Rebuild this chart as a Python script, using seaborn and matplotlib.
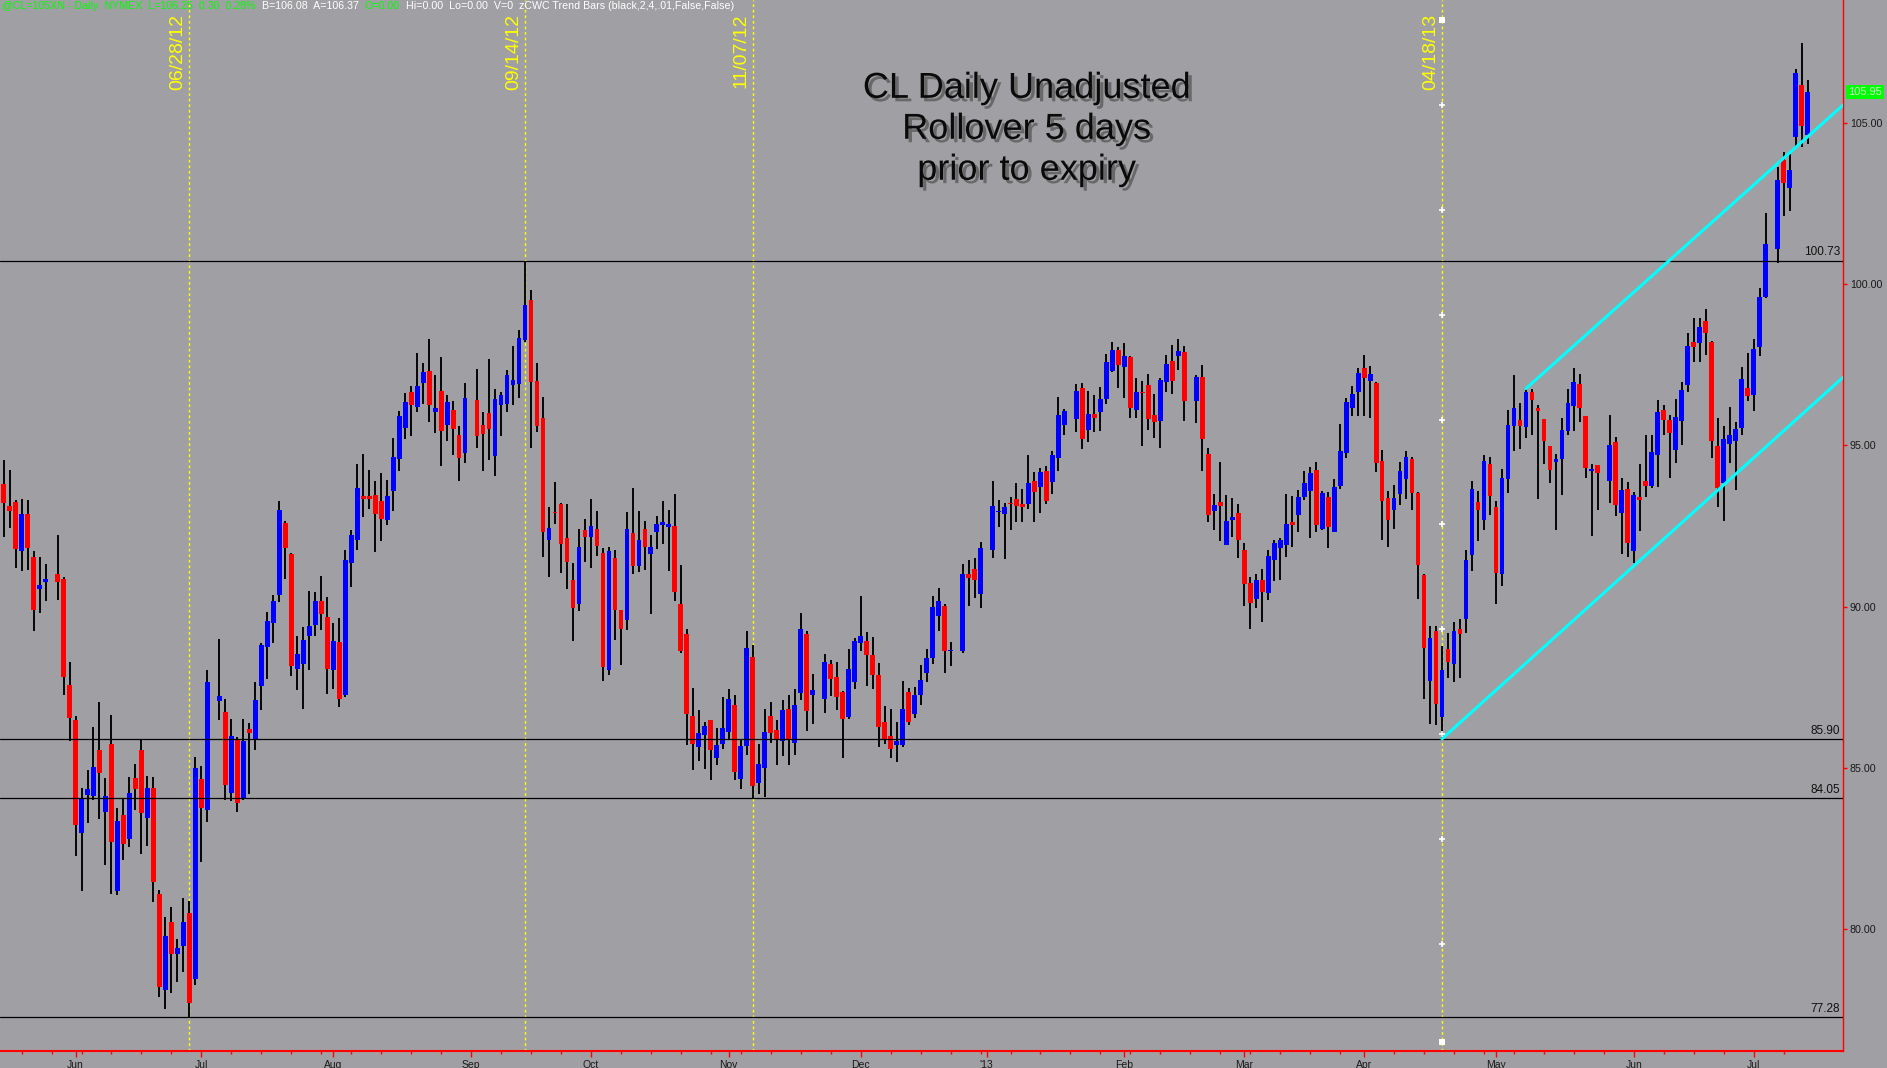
import numpy as np
import pandas as pd
import matplotlib
matplotlib.use("Agg")
import matplotlib.pyplot as plt
import matplotlib.patheffects as pe
import matplotlib.transforms as mtransforms
import seaborn as sns

# ---------------- data ----------------
first_day, last_day = "2012-05-16", "2013-07-12"
no_slot_days = ["2013-03-29"]                      # no column on the chart
no_bar_days = ["2012-05-28", "2012-07-04", "2012-09-03", "2012-11-22",
               "2012-12-25", "2013-01-01", "2013-01-21", "2013-02-18",
               "2013-05-27", "2013-07-04"]          # empty columns

opens = [
    93.80, 93.13, 93.25, 91.72, 92.88, 91.54, 90.54, 90.77, 91.00, 90.86, 87.58,
    86.47, 82.99, 84.15, 84.13, 85.54, 83.63, 85.75, 81.18, 83.53, 82.79, 84.70, 85.54, 83.44, 84.38, 81.10, 78.11, 80.22, 79.23, 79.47, 80.51, 78.45,
    84.66, 83.68, 87.06, 86.74, 84.22, 85.90, 84.03, 86.21, 85.86, 87.53, 88.74, 89.48, 90.35, 92.60, 91.63, 88.06, 88.21, 89.10, 89.42, 90.17, 89.69,
    88.03, 88.89, 87.25, 91.34, 92.05, 93.43, 93.43, 93.47, 93.28, 92.69, 93.57, 94.57, 95.55, 96.64, 96.19, 96.94, 97.31, 96.04, 96.69, 95.64, 96.10, 95.32, 94.75,
    96.41, 95.63, 96.01, 94.67, 96.24, 96.28, 96.86, 96.90, 98.27, 99.50, 96.99, 95.85, 92.06, 92.94, 93.19, 92.14, 90.83, 90.07, 92.38,
    92.15, 92.41, 91.67, 88.03, 91.52, 89.88, 89.60, 92.29, 91.27, 92.41, 91.62, 92.32, 92.52, 92.47, 92.50, 90.07, 89.16, 86.62, 85.64, 86.01, 86.47, 85.30, 85.74,
    86.11, 86.94, 84.65, 85.68, 88.45, 84.53, 84.99, 86.62, 86.16, 85.82, 86.81, 85.78, 87.32, 89.16, 87.27, 87.12, 88.23, 87.83, 87.36, 86.57, 87.66,
    88.86, 88.94, 88.51, 87.89, 86.41, 85.99, 85.71, 85.70, 87.36, 86.67, 87.26, 87.93, 88.40, 89.70, 90.03, 88.62, 88.61, 91.02, 91.18, 90.40,
    91.77, 92.93, 92.86, 93.21, 93.35, 93.17, 93.19, 93.90, 93.72, 94.21, 93.87, 94.60, 95.63, 95.82, 96.78, 95.49, 95.98, 96.03, 96.45, 97.31, 97.96,
    97.42, 97.74, 96.11, 96.65, 96.87, 95.94, 95.77, 96.95, 97.61, 97.78, 97.90, 96.39, 97.12, 94.74, 92.95, 93.25, 91.92, 92.70, 92.90,
    91.76, 90.74, 90.23, 90.83, 90.41, 91.44, 91.83, 91.92, 92.63, 92.83, 93.39, 93.60, 94.25, 92.41, 93.41, 92.32, 93.73, 94.75, 96.17, 96.66,
    97.39, 97.01, 96.94, 94.52, 93.38, 93.01, 93.48, 93.95, 94.59, 93.51, 90.97, 87.68, 89.23, 86.59, 88.68, 88.21, 89.30, 89.61, 91.59, 93.25, 92.70, 94.43,
    93.10, 91.00, 93.97, 95.59, 95.79, 95.56, 96.64, 96.16, 95.81, 94.98, 94.47, 94.58, 95.45, 96.21, 96.90, 95.91, 94.22, 94.39, 93.88, 95.09, 92.89, 93.66,
    91.73, 93.40, 93.88, 93.73, 94.71, 96.10, 95.80, 94.86, 95.77, 96.87, 98.19, 98.17, 98.87, 98.22, 94.99, 93.84, 95.04, 95.13, 95.54, 96.79,
    96.57, 98.06, 99.61, 101.08, 103.86, 102.99, 104.57, 106.17, 104.62,
]
highs = [
    94.54, 94.24, 93.30, 93.34, 93.31, 91.73, 91.53, 91.33, 92.23, 90.91, 88.29,
    86.61, 84.38, 84.94, 86.28, 87.05, 84.69, 86.63, 83.74, 84.07, 84.73, 85.13, 85.89, 84.76, 84.73, 81.21, 80.39, 80.69, 79.70, 80.96, 80.86, 85.34,
    85.06, 88.03, 88.99, 87.15, 86.51, 85.96, 86.52, 86.40, 87.65, 88.87, 89.82, 90.37, 93.28, 92.66, 91.67, 89.09, 89.37, 90.49, 90.46, 90.96, 90.31,
    89.50, 89.65, 91.76, 92.36, 94.43, 94.74, 94.24, 93.90, 94.14, 93.93, 95.23, 96.07, 96.61, 96.85, 97.87, 97.56, 98.30, 97.18, 97.74, 96.56, 96.38, 95.61, 96.94,
    97.36, 96.03, 97.69, 96.76, 96.65, 97.34, 98.08, 98.58, 100.73, 99.81, 97.56, 96.50, 93.10, 93.87, 93.20, 93.19, 91.35, 92.41, 92.72,
    93.34, 92.98, 91.83, 91.85, 91.75, 89.90, 92.94, 93.69, 92.98, 92.65, 92.23, 92.81, 93.29, 93.00, 93.50, 91.30, 89.32, 87.49, 86.78, 86.41, 86.47, 86.25, 87.21,
    87.44, 87.27, 85.90, 89.25, 88.82, 85.74, 86.81, 87.05, 86.47, 87.10, 87.27, 87.43, 89.81, 89.23, 87.91, 88.54, 88.34, 88.27, 87.37, 88.70, 89.02,
    90.34, 89.21, 89.07, 88.26, 86.93, 86.81, 86.41, 87.70, 87.49, 87.50, 88.20, 88.67, 90.34, 90.57, 90.09, 88.89, 91.33, 91.45, 91.52, 92.01,
    93.90, 93.31, 93.21, 93.39, 93.82, 93.66, 94.70, 94.16, 94.30, 94.37, 94.83, 96.50, 96.12, 96.90, 96.94, 96.70, 96.56, 96.81, 97.83, 98.22, 98.05,
    98.18, 97.78, 97.09, 97.01, 97.21, 96.59, 97.09, 97.80, 98.11, 98.30, 98.08, 97.18, 97.49, 94.92, 93.50, 94.49, 93.47, 93.38, 93.19,
    91.97, 90.92, 91.00, 91.17, 91.75, 92.05, 92.13, 93.50, 93.42, 93.63, 94.21, 94.34, 94.49, 93.58, 93.56, 93.96, 95.67, 96.47, 96.85, 97.39,
    97.80, 97.46, 96.96, 94.86, 93.59, 93.78, 94.49, 94.83, 94.65, 93.55, 91.00, 89.40, 89.40, 88.79, 89.17, 89.52, 89.63, 91.74, 93.90, 93.59, 94.70, 94.63,
    93.27, 94.26, 96.09, 97.17, 96.30, 96.76, 96.76, 96.24, 95.81, 94.98, 94.72, 95.86, 96.76, 97.39, 97.22, 95.91, 94.42, 94.39, 95.94, 95.26, 93.99, 93.87,
    93.55, 94.42, 95.32, 95.32, 96.41, 96.26, 95.94, 96.43, 96.97, 98.49, 98.94, 98.94, 99.23, 98.25, 95.86, 95.61, 96.18, 95.73, 97.44, 97.87,
    98.31, 99.88, 102.22, 103.64, 104.11, 104.02, 106.67, 107.48, 106.33,
]
lows = [
    92.15, 92.43, 91.21, 91.10, 91.12, 89.23, 89.80, 90.17, 90.22, 87.25, 85.83,
    82.26, 81.18, 83.29, 84.01, 83.41, 81.99, 81.09, 81.06, 82.13, 82.54, 83.68, 82.32, 82.58, 80.84, 77.89, 77.53, 78.03, 78.35, 78.67, 77.28, 78.28,
    82.09, 83.31, 86.48, 84.01, 83.98, 83.63, 84.00, 84.20, 85.55, 86.78, 87.75, 88.88, 90.13, 90.86, 87.86, 87.40, 86.81, 88.02, 89.10, 89.29, 87.28,
    87.45, 86.88, 87.19, 90.60, 91.74, 92.79, 93.03, 91.68, 92.02, 92.52, 92.95, 94.19, 95.21, 95.28, 96.02, 96.27, 95.71, 95.37, 94.37, 95.12, 94.70, 93.91, 94.46,
    94.93, 94.21, 94.56, 94.04, 95.30, 96.04, 96.26, 96.47, 98.20, 94.93, 95.40, 91.53, 90.93, 92.55, 91.03, 90.55, 88.94, 89.86, 91.37,
    91.21, 91.58, 87.68, 87.88, 88.98, 88.19, 89.26, 91.00, 91.06, 91.12, 89.77, 91.78, 91.95, 91.10, 90.17, 88.55, 85.70, 84.93, 85.21, 84.97, 84.62, 85.08, 85.59,
    85.91, 84.62, 84.33, 85.39, 84.05, 84.20, 84.09, 85.78, 85.09, 85.37, 85.08, 85.39, 87.09, 86.13, 86.35, 86.70, 87.24, 86.78, 85.32, 86.50, 87.44,
    88.63, 87.53, 87.44, 85.64, 85.74, 85.30, 85.19, 85.66, 86.32, 86.56, 86.96, 87.66, 88.23, 89.24, 87.93, 88.17, 88.55, 90.01, 90.28, 89.97,
    91.52, 92.46, 91.49, 92.38, 92.63, 92.63, 93.03, 92.61, 92.91, 93.19, 93.50, 94.21, 95.32, 95.41, 94.90, 95.10, 95.41, 95.44, 96.27, 97.27, 96.79,
    96.48, 95.85, 95.85, 94.99, 95.49, 95.24, 94.93, 96.64, 96.60, 97.33, 95.74, 95.70, 94.19, 92.61, 92.39, 92.02, 91.90, 92.15, 91.52,
    90.01, 89.30, 89.97, 89.51, 90.19, 90.79, 90.84, 91.54, 91.86, 92.32, 93.32, 92.12, 92.32, 92.38, 91.81, 92.30, 93.66, 94.61, 95.91, 95.91,
    95.91, 95.85, 94.16, 92.07, 91.86, 92.41, 93.15, 93.34, 93.01, 90.24, 87.14, 86.35, 86.32, 85.90, 87.80, 87.66, 87.79, 89.17, 91.10, 92.02, 92.38, 92.84,
    90.09, 90.64, 93.52, 94.82, 94.88, 95.23, 95.31, 93.33, 94.42, 93.84, 92.37, 93.47, 95.31, 95.45, 95.72, 93.99, 92.18, 93.01, 93.20, 92.81, 91.62, 91.54,
    91.34, 92.34, 93.41, 93.68, 93.71, 95.32, 93.99, 94.44, 95.02, 96.64, 97.57, 97.60, 97.79, 94.60, 93.08, 92.65, 94.44, 93.63, 95.31, 96.37,
    96.05, 97.77, 99.56, 100.67, 102.11, 102.26, 104.27, 104.24, 104.34,
]
closes = [
    93.20, 92.95, 91.80, 92.88, 91.82, 89.89, 90.68, 90.86, 90.75, 87.81, 86.54,
    83.22, 84.02, 84.33, 85.04, 84.84, 84.12, 82.69, 83.34, 82.64, 84.23, 84.33, 83.59, 84.36, 81.47, 78.21, 79.78, 79.23, 79.41, 80.23, 77.72, 84.98,
    83.75, 87.67, 87.23, 84.48, 86.00, 83.92, 85.84, 86.09, 87.11, 88.82, 89.56, 90.18, 93.00, 91.83, 88.15, 88.52, 88.98, 89.41, 90.17, 89.78, 88.06,
    88.94, 87.13, 91.43, 92.23, 93.69, 93.34, 93.35, 92.86, 92.73, 93.44, 94.65, 95.92, 96.34, 96.26, 96.85, 97.27, 96.26, 96.16, 95.46, 96.35, 95.50, 94.61, 96.47,
    95.30, 95.36, 95.52, 96.45, 96.56, 97.18, 97.04, 98.32, 99.36, 96.95, 95.61, 92.30, 92.45, 92.89, 91.93, 91.37, 89.97, 91.86, 92.15,
    92.50, 91.89, 88.14, 91.73, 89.88, 89.32, 92.41, 91.26, 92.07, 91.86, 91.86, 92.57, 92.61, 92.55, 90.44, 88.63, 86.67, 85.74, 86.07, 86.31, 85.55, 85.70, 86.25,
    87.12, 84.86, 85.67, 88.72, 84.45, 85.12, 86.11, 86.08, 85.85, 86.78, 85.91, 86.94, 89.30, 86.75, 87.41, 88.29, 87.74, 87.19, 86.51, 88.08, 88.94,
    89.10, 88.50, 87.88, 86.26, 85.91, 85.59, 85.83, 86.81, 86.43, 87.27, 87.72, 88.42, 89.99, 90.16, 88.63, 88.64, 91.00, 90.88, 90.81, 91.83,
    93.12, 92.95, 93.10, 93.18, 93.12, 93.10, 93.83, 93.56, 94.16, 93.28, 94.70, 95.94, 96.07, 96.70, 95.21, 95.98, 95.86, 96.45, 97.59, 97.96, 97.48,
    97.78, 96.16, 96.65, 96.61, 95.82, 95.71, 97.04, 97.52, 97.01, 97.92, 96.39, 97.12, 95.21, 92.84, 93.16, 93.11, 92.67, 92.77, 92.06,
    90.69, 90.12, 90.83, 90.45, 91.58, 91.98, 92.07, 92.57, 92.52, 93.41, 93.83, 94.13, 92.52, 93.52, 92.46, 93.72, 94.83, 96.35, 96.60, 97.25,
    97.08, 97.21, 94.44, 93.26, 92.69, 93.38, 94.21, 94.65, 93.51, 91.28, 88.71, 89.04, 86.97, 88.03, 88.28, 89.23, 89.16, 91.45, 93.65, 92.99, 94.52, 93.44,
    91.03, 93.99, 95.63, 96.16, 95.61, 96.65, 96.40, 96.05, 95.15, 94.23, 94.58, 95.48, 96.32, 96.95, 96.16, 94.30, 94.28, 94.15, 95.02, 93.14, 93.62, 91.97,
    93.47, 93.30, 93.73, 94.79, 96.04, 95.78, 95.37, 95.89, 96.71, 98.09, 98.04, 98.68, 98.47, 95.15, 93.68, 95.21, 95.32, 95.51, 97.06, 96.54,
    98.00, 99.61, 101.25, 103.23, 103.13, 103.54, 106.55, 104.90, 105.95,
]

levels = [100.73, 85.90, 84.05, 77.28]
marker_dates = ["2012-06-28", "2012-09-14", "2012-11-07", "2013-04-18"]
marker_labels = ["06/28/12", "09/14/12", "11/07/12", "04/18/13"]
upper_channel = [("2013-05-08", 96.76), ("2013-07-12", 104.57)]
lower_channel = [("2013-04-18", 85.90), ("2013-07-12", 96.12)]
last_price = 105.95
month_labels = ["Jun", "Jul", "Aug", "Sep", "Oct", "Nov", "Dec", "'13",
                "Feb", "Mar", "Apr", "May", "Jun", "Jul"]
price_ticks = [80, 85, 90, 95, 100, 105]
title_text = "CL Daily Unadjusted\nRollover 5 days\nprior to expiry"
header_segments = [
    ("@CL=105XN - Daily  NYMEX  L=106.25  0.30  0.28%", "#00ff00"),
    ("  B=106.08  A=106.37  ", "white"),
    ("O=0.00", "#00ff00"),
    ("  Hi=0.00  Lo=0.00  V=0  zCWC Trend Bars (black,2,4,.01,False,False)", "white"),
]

# ---------------- styling ----------------
BG = "#a0a0a4"
UP, DOWN = "#0000ff", "#ff0000"
sns.set_theme(style="dark", rc={"axes.facecolor": BG, "figure.facecolor": BG,
                                "axes.grid": False, "savefig.facecolor": BG})
plt.rcParams["font.family"] = ["Liberation Sans", "DejaVu Sans"]

slots = pd.bdate_range(first_day, last_day)
slots = slots[~slots.isin(pd.to_datetime(no_slot_days))]
slot_of = pd.Series(np.arange(len(slots)), index=slots)
days = slots[~slots.isin(pd.to_datetime(no_bar_days))]
assert len(days) == len(opens) == len(highs) == len(lows) == len(closes)

df = pd.DataFrame({"date": days, "x": slot_of[days].to_numpy(),
                   "open": opens, "high": highs, "low": lows, "close": closes})
df["up"] = df["close"] >= df["open"]

W, H, DPI = 1887, 1068, 100
fig = plt.figure(figsize=(W / DPI, H / DPI), dpi=DPI)
ax = fig.add_axes([0, 17 / H, 1843 / W, 1051 / H])
ax.set_facecolor(BG)

x_left = -0.6
x_right = len(slots) - 1 + 5.9
ax.set_xlim(x_left, x_right)
ax.set_ylim(76.22, 108.81)

# vertical date markers (behind the bars)
blend = mtransforms.blended_transform_factory(ax.transData, ax.transAxes)
for d, lab in zip(marker_dates, marker_labels):
    xv = slot_of[pd.Timestamp(d)]
    ax.axvline(xv, color="#ffff00", lw=1.0, ls=(0, (2, 2)), zorder=1.5)
    ax.annotate(lab, xy=(xv, 1), xycoords=blend, xytext=(-3, -14),
                textcoords="offset pixels", rotation=90, ha="right", va="top",
                fontsize=14, color="#ffff00", zorder=6)

# candles: wicks then bodies
ax.vlines(df["x"], df["low"], df["high"], color="black", lw=1.35, zorder=2)
body_lo = np.minimum(df["open"], df["close"])
body_h = (df["close"] - df["open"]).abs().clip(lower=0.04)
ax.bar(df["x"], body_h, bottom=body_lo, width=0.8,
       color=np.where(df["up"], UP, DOWN), linewidth=0, zorder=3)

# horizontal levels
for lv in levels:
    ax.axhline(lv, color="black", lw=0.9, zorder=4)
    ax.annotate(f"{lv:.2f}", xy=(1, lv), xycoords=("axes fraction", "data"),
                xytext=(-2, 1.5), textcoords="offset points", ha="right", va="bottom",
                fontsize=8.5, color="#111111", zorder=6)

# channel lines
def channel(anchors):
    (d0, p0), (d1, p1) = anchors
    x0, x1 = slot_of[pd.Timestamp(d0)], slot_of[pd.Timestamp(d1)]
    slope = (p1 - p0) / (x1 - x0)
    return pd.DataFrame({"x": [x0, x_right], "y": [p0, p0 + slope * (x_right - x0)]})

for anchors in (upper_channel, lower_channel):
    sns.lineplot(data=channel(anchors), x="x", y="y", color="#00ffff", lw=2.2,
                 ax=ax, zorder=5, legend=False, sort=False)

# handle marks on the last (selected) vertical line
xsel = slot_of[pd.Timestamp(marker_dates[-1])]
k = np.arange(1, 10)
ax.scatter(np.full(k.size, xsel), 1 - k * 0.0998, transform=blend, marker="+",
           s=14, color="white", linewidths=1.2, zorder=7)
ax.scatter([xsel, xsel], [0.9805, 0.0086], transform=blend, marker="s",
           s=22, color="white", linewidths=0, zorder=7)

# title with a soft dark drop shadow
ax.text(0.557, 0.877, title_text, transform=ax.transAxes, ha="center", va="center",
        fontsize=26, color="#0a0a0a", linespacing=1.22, zorder=8,
        path_effects=[pe.withSimplePatchShadow(offset=(2.5, -2.5), shadow_rgbFace="#3a3a3a",
                                               alpha=0.55)])

# header line
prev = ax.annotate(header_segments[0][0], xy=(0, 1), xycoords="axes fraction",
                   xytext=(2, -1), textcoords="offset pixels", ha="left", va="top",
                   fontsize=7.7, color=header_segments[0][1], zorder=8)
for seg, col in header_segments[1:]:
    prev = ax.annotate(seg, xy=(1, 0), xycoords=prev, ha="left", va="bottom",
                       fontsize=7.7, color=col, zorder=8)

# last price box
ax.annotate(f"{last_price:.2f}", xy=(1, last_price), xycoords=("axes fraction", "data"),
            xytext=(5, 0), textcoords="offset pixels", ha="left", va="center",
            fontsize=8, color="#c8f5c8", annotation_clip=False,
            bbox=dict(boxstyle="square,pad=0.2", fc="#00ff00", ec="none"))

# axes / ticks
month_first = pd.Series(np.arange(len(slots))).groupby(slots.to_period("M").to_numpy()).min()
ax.set_xticks(month_first.to_numpy()[1:])
ax.set_xticklabels(month_labels)
ax.set_xticks(slot_of[slots.weekday == 0].to_numpy(), minor=True)
ax.yaxis.tick_right()
ax.set_yticks(price_ticks)
ax.set_yticklabels([f"{p:.2f}" for p in price_ticks])
ax.tick_params(axis="x", which="major", length=4.5, width=1, color="red", pad=2,
               labelsize=7.5, labelcolor="#1a1a1a", bottom=True)
ax.tick_params(axis="x", which="minor", length=2.5, width=1, color="red", bottom=True)
ax.tick_params(axis="y", which="major", length=3, width=1, color="red", pad=2,
               labelsize=7.7, labelcolor="#1a1a1a", right=True, left=False)
for s in ("top", "left"):
    ax.spines[s].set_visible(False)
ax.spines["right"].set_color("red")
ax.spines["right"].set_linewidth(1.0)
ax.spines["bottom"].set_color("red")
ax.spines["bottom"].set_linewidth(1.5)
ax.set_xlabel("")
ax.set_ylabel("")

fig.savefig("out.png", dpi=DPI, facecolor=BG)
